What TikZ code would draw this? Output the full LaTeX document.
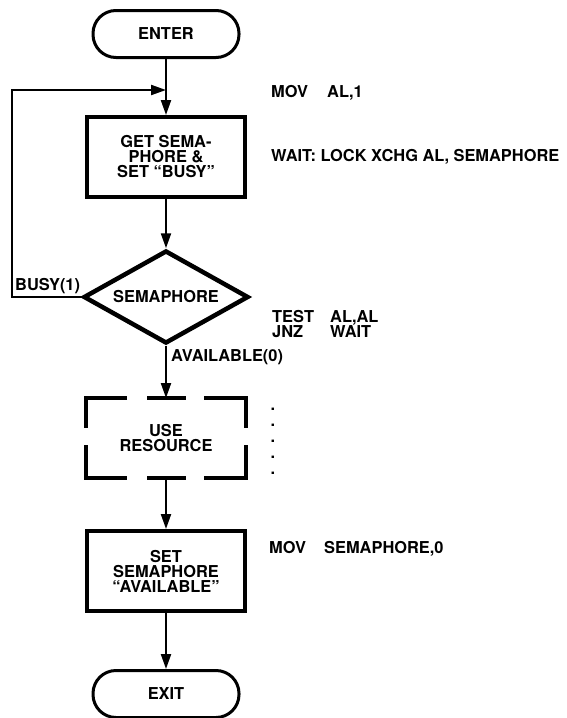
\documentclass[tikz,border=0pt]{standalone}
\usepackage{fontspec}
\setmainfont{TeX Gyre Heros}
\usetikzlibrary{shapes.geometric,arrows.meta,calc}
\begin{document}
\begin{tikzpicture}[x=1pt,y=-1pt,
  every node/.style={font=\bfseries\fontsize{16.4}{15}\selectfont, align=center, inner sep=0pt},
  term/.style={draw, line width=3pt, rounded corners=23pt, minimum width=146pt, minimum height=47pt},
  proc/.style={draw, line width=4pt, minimum width=158pt, minimum height=80pt},
  decision/.style={draw, diamond, line width=4.5pt, aspect=1.77, minimum width=165pt, minimum height=93pt},
  conn/.style={line width=2.2pt, -{Triangle[length=15pt,width=10pt]}},
  dbox/.style={line width=4pt},
  code/.style={anchor=west, align=left},
  dot/.style={anchor=base}]
\fill[white] (0,0) rectangle (566,718);
\useasboundingbox (0,0) rectangle (566,718);

% flow nodes
\node[term] (enter) at (166,34) {ENTER};
\node[proc] (get) at (166,157) {GET SEMA-\\PHORE \&\\SET “BUSY”};
\node[decision] (dec) at (166,297) {SEMAPHORE};
\node[minimum width=160pt, minimum height=80pt, outer sep=0pt] (use) at (166,438) {USE\\RESOURCE};
\node[proc] (set) at (166,571) {SET\\SEMAPHORE\\“AVAILABLE”};
\node[term] (exit) at (166,694) {EXIT};

% dashed box for USE RESOURCE
\draw[dbox] ($(use.north west)+(41,0)$) -- (use.north west) -- ($(use.north west)+(0,30)$);
\draw[dbox] ($(use.north west)+(61,0)$) -- ($(use.north west)+(100,0)$);
\draw[dbox] ($(use.north east)+(-42,0)$) -- (use.north east) -- ($(use.north east)+(0,30)$);
\draw[dbox] ($(use.south west)+(0,-33)$) -- (use.south west) -- ($(use.south west)+(41,0)$);
\draw[dbox] ($(use.south west)+(61,0)$) -- ($(use.south west)+(100,0)$);
\draw[dbox] ($(use.south east)+(-42,0)$) -- (use.south east) -- ($(use.south east)+(0,-33)$);

% connectors
\coordinate (j) at (166,90);
\coordinate (lb) at (12,297);
\coordinate (lt) at (12,90);
\draw[conn] (enter.south) -- (get.north);
\draw[conn] (dec.west) -- (lb) -- (lt) -- (j);
\draw[conn] (get.south) -- (dec.north);
\draw[conn] (dec.south) -- (use.north);
\draw[conn] (use.south) -- (set.north);
\draw[conn] (set.south) -- (exit.north);

% labels
\node[anchor=base west] (busy) at (15,290) {BUSY(1)};
\node[anchor=west] (avail) at (171,357) {AVAILABLE(0)};

% code
\node[code] (mov1) at (271,93) {\makebox[56pt][l]{MOV}AL,1};
\node[code] (wait) at (271,157) {WAIT: LOCK XCHG AL, SEMAPHORE};
\node[code] (test) at (272,324) {\makebox[58pt][l]{TEST}AL,AL\\\makebox[58pt][l]{JNZ}WAIT};
\node[code] (mov0) at (269,549) {\makebox[55pt][l]{MOV}SEMAPHORE,0};
\node[dot] (d1) at (273,410) {.};
\node[dot] (d2) at (273,426) {.};
\node[dot] (d3) at (273,442) {.};
\node[dot] (d4) at (273,458) {.};
\node[dot] (d5) at (273,474) {.};
\end{tikzpicture}
\end{document}
